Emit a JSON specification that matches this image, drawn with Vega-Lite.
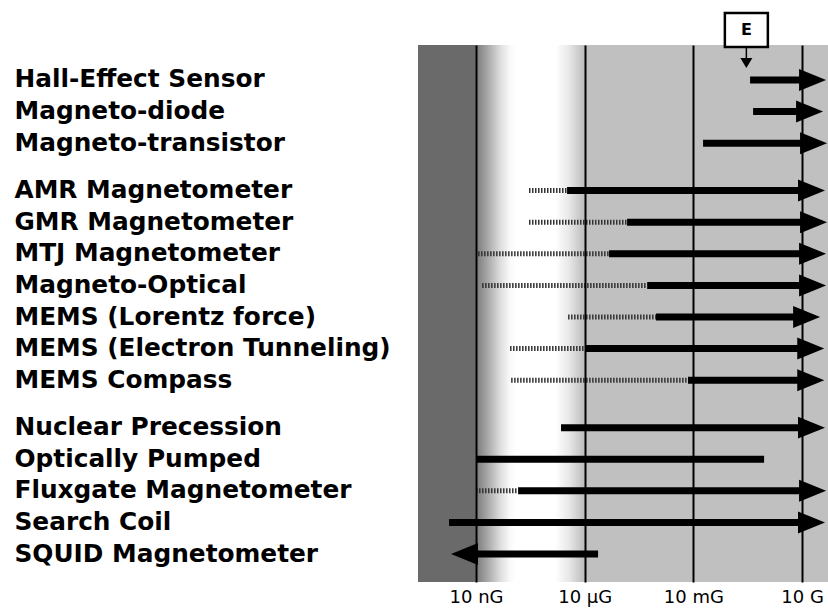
{
  "$schema": "https://vega.github.io/schema/vega-lite/v6.json",
  "width": 410,
  "height": 537,
  "autosize": {"type": "none"},
  "padding": {"left": 418, "top": 45, "right": 0, "bottom": 26},
  "background": "white",
  "config": {"view": {"stroke": null}},
  "datasets": {
    "sensors": [
      {"sensor": "Hall-Effect Sensor", "start": 0.367, "end": 46, "dir": "right"},
      {"sensor": "Magneto-diode", "start": 0.445, "end": 38, "dir": "right"},
      {"sensor": "Magneto-transistor", "start": 0.0185, "end": 49, "dir": "right"},
      {"sensor": "AMR Magnetometer", "lo": 2.9e-7, "start": 3.26e-6, "end": 43, "dir": "right"},
      {"sensor": "GMR Magnetometer", "lo": 2.9e-7, "start": 1.48e-4, "end": 49, "dir": "right"},
      {"sensor": "MTJ Magnetometer", "lo": 1.14e-8, "start": 4.7e-5, "end": 46, "dir": "right"},
      {"sensor": "Magneto-Optical", "lo": 1.47e-8, "start": 5.3e-4, "end": 46, "dir": "right"},
      {"sensor": "MEMS (Lorentz force)", "lo": 3.47e-6, "start": 9.3e-4, "end": 31.5, "dir": "right"},
      {"sensor": "MEMS (Electron Tunneling)", "lo": 8.7e-8, "start": 1.02e-5, "end": 41, "dir": "right"},
      {"sensor": "MEMS Compass", "lo": 9.3e-8, "start": 7.1e-3, "end": 41, "dir": "right"},
      {"sensor": "Nuclear Precession", "start": 2.22e-6, "end": 43, "dir": "right"},
      {"sensor": "Optically Pumped", "start": 1e-8, "end": 0.895, "dir": "none"},
      {"sensor": "Fluxgate Magnetometer", "lo": 1e-8, "start": 1.45e-7, "end": 46, "dir": "right"},
      {"sensor": "Search Coil", "start": 1.8e-9, "end": 43, "dir": "right"},
      {"sensor": "SQUID Magnetometer", "start": 2.04e-9, "end": 2.34e-5, "dir": "left"}
    ],
    "marker": [{"label": "E", "value": 0.29}],
    "frame": [{"band": "background"}]
  },
  "resolve": {"scale": {"y": "independent"}},
  "layer": [
    {
      "layer": [
        {
          "data": {"name": "frame"},
          "mark": {
            "type": "rect",
            "fill": {
              "gradient": "linear", "x1": 0, "y1": 0, "x2": 1, "y2": 0,
              "stops": [
                {"offset": 0, "color": "#6a6a6a"},
                {"offset": 0.139, "color": "#6a6a6a"},
                {"offset": 0.1415, "color": "#7a7a7a"},
                {"offset": 0.17, "color": "#a8a8a8"},
                {"offset": 0.2, "color": "#dcdcdc"},
                {"offset": 0.225, "color": "#fafafa"},
                {"offset": 0.24, "color": "#ffffff"},
                {"offset": 0.335, "color": "#ffffff"},
                {"offset": 0.37, "color": "#e6e6e6"},
                {"offset": 0.402, "color": "#c0c0c0"},
                {"offset": 1, "color": "#c0c0c0"}
              ]
            }
          },
          "encoding": {}
        },
        {
          "data": {"name": "sensors"},
          "transform": [{"filter": "isValid(datum.lo)"}],
          "mark": {"type": "rule", "strokeWidth": 5, "strokeDash": [1.5, 1.5], "color": "#333333"},
          "encoding": {
            "x": {
              "field": "lo", "type": "quantitative",
              "scale": {"type": "log", "domain": [2.5e-10, 52], "nice": false},
              "axis": {
                "values": [1e-8, 1e-5, 0.01, 10],
                "labelExpr": "datum.value < 1e-7 ? '10 nG' : datum.value < 1e-4 ? '10 µG' : datum.value < 0.1 ? '10 mG' : '10 G'",
                "title": null, "grid": true, "gridColor": "#000000", "gridWidth": 2, "gridOpacity": 1,
                "ticks": false, "domain": false, "labelFont": "DejaVu Sans", "labelFontSize": 18,
                "labelColor": "#000000", "labelPadding": 6, "labelFlush": false, "labelOverlap": false, "zindex": 1
              }
            },
            "x2": {"field": "start"},
            "y": {
              "field": "sensor", "type": "nominal",
              "scale": {"type": "point", "padding": 0.99, "align": 0.612,
                "domain": ["_0", "Hall-Effect Sensor", "_1", "Magneto-diode", "_2", "Magneto-transistor", "_3", "_4", "AMR Magnetometer", "_5", "GMR Magnetometer", "_6", "MTJ Magnetometer", "_7", "Magneto-Optical", "_8", "MEMS (Lorentz force)", "_9", "MEMS (Electron Tunneling)", "_10", "MEMS Compass", "_11", "_12", "Nuclear Precession", "_13", "Optically Pumped", "_14", "Fluxgate Magnetometer", "_15", "Search Coil", "_16", "SQUID Magnetometer", "_17"]},
              "axis": {
                "title": null, "labelAlign": "left", "labelBaseline": "middle", "labelPadding": 404,
                "ticks": false, "tickSize": 0, "domain": false, "grid": false, "labelLimit": 0,
                "labelFont": "DejaVu Sans", "labelFontWeight": "bold", "labelFontSize": 24.8,
                "labelColor": "#000000", "labelOverlap": false,
                "labelExpr": "indexof(datum.label, '_') === 0 ? '' : datum.label"
              }
            }
          }
        },
        {
          "data": {"name": "sensors"},
          "transform": [{"filter": "datum.dir === 'right'"}],
          "mark": {"type": "rule", "strokeWidth": 7, "color": "#000000", "x2Offset": -20},
          "encoding": {
            "x": {"field": "start", "type": "quantitative", "scale": {"type": "log", "domain": [2.5e-10, 52], "nice": false}},
            "x2": {"field": "end"},
            "y": {"field": "sensor", "type": "nominal"}
          }
        },
        {
          "data": {"name": "sensors"},
          "transform": [{"filter": "datum.dir === 'none'"}],
          "mark": {"type": "rule", "strokeWidth": 7, "color": "#000000"},
          "encoding": {
            "x": {"field": "start", "type": "quantitative", "scale": {"type": "log", "domain": [2.5e-10, 52], "nice": false}},
            "x2": {"field": "end"},
            "y": {"field": "sensor", "type": "nominal"}
          }
        },
        {
          "data": {"name": "sensors"},
          "transform": [{"filter": "datum.dir === 'left'"}],
          "mark": {"type": "rule", "strokeWidth": 7, "color": "#000000", "xOffset": 20},
          "encoding": {
            "x": {"field": "start", "type": "quantitative", "scale": {"type": "log", "domain": [2.5e-10, 52], "nice": false}},
            "x2": {"field": "end"},
            "y": {"field": "sensor", "type": "nominal"}
          }
        },
        {
          "data": {"name": "sensors"},
          "transform": [{"filter": "datum.dir === 'right'"}],
          "mark": {"type": "point", "shape": "M0,0L-1,-0.407L-1,0.407Z", "size": 2916, "filled": true, "color": "#000000", "opacity": 1, "strokeWidth": 0},
          "encoding": {
            "x": {"field": "end", "type": "quantitative", "scale": {"type": "log", "domain": [2.5e-10, 52], "nice": false}},
            "y": {"field": "sensor", "type": "nominal"}
          }
        },
        {
          "data": {"name": "sensors"},
          "transform": [{"filter": "datum.dir === 'left'"}],
          "mark": {"type": "point", "shape": "M0,0L1,-0.407L1,0.407Z", "size": 2916, "filled": true, "color": "#000000", "opacity": 1, "strokeWidth": 0},
          "encoding": {
            "x": {"field": "start", "type": "quantitative", "scale": {"type": "log", "domain": [2.5e-10, 52], "nice": false}},
            "y": {"field": "sensor", "type": "nominal"}
          }
        }
      ]
    },
    {
      "data": {"name": "marker"},
      "layer": [
        {
          "mark": {"type": "point", "shape": "M-1,-0.79H1V0.79H-1Z", "size": 1849, "filled": false, "fill": "#ffffff", "stroke": "#000000", "strokeWidth": 2.5, "opacity": 1},
          "encoding": {
            "x": {"field": "value", "type": "quantitative", "scale": {"type": "log", "domain": [2.5e-10, 52], "nice": false}},
            "y": {"datum": 1.028, "type": "quantitative", "scale": {"domain": [0, 1], "nice": false, "zero": false}, "axis": null}
          }
        },
        {
          "mark": {"type": "text", "font": "DejaVu Sans", "fontWeight": "bold", "fontSize": 16, "align": "center", "baseline": "middle", "color": "#000000"},
          "encoding": {
            "x": {"field": "value", "type": "quantitative"},
            "y": {"datum": 1.028, "type": "quantitative"},
            "text": {"field": "label"}
          }
        },
        {
          "mark": {"type": "rule", "strokeWidth": 1.5, "color": "#000000"},
          "encoding": {
            "x": {"field": "value", "type": "quantitative"},
            "y": {"datum": 0.9963, "type": "quantitative"},
            "y2": {"datum": 0.9758}
          }
        },
        {
          "mark": {"type": "point", "shape": "M0,1L-1,-0.67L1,-0.67Z", "size": 144, "filled": true, "color": "#000000", "opacity": 1, "strokeWidth": 0},
          "encoding": {
            "x": {"field": "value", "type": "quantitative"},
            "y": {"datum": 0.9683, "type": "quantitative"}
          }
        }
      ]
    }
  ]
}
